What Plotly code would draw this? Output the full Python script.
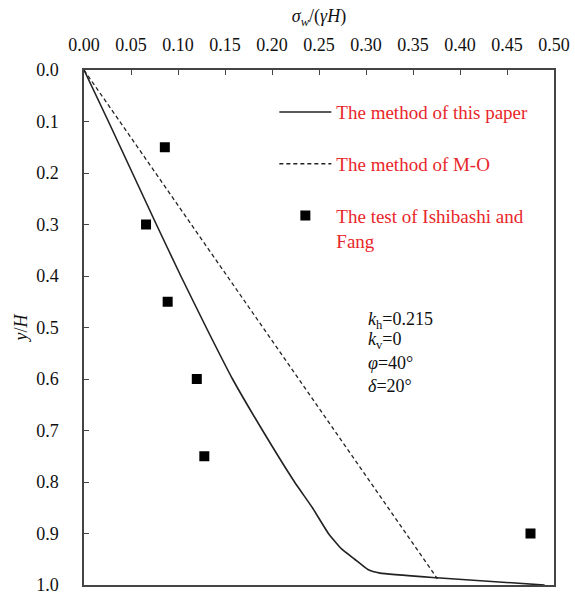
import plotly.graph_objects as go

# Data
paper_y = [0.0, 0.1, 0.2, 0.3, 0.4, 0.5, 0.6, 0.7, 0.8, 0.85, 0.9, 0.93, 0.95, 0.97, 0.977, 0.986, 1.0]
paper_x = [0.0, 0.026, 0.0515, 0.077, 0.103, 0.13, 0.158, 0.19, 0.224, 0.243, 0.26, 0.274, 0.288, 0.302, 0.315, 0.375, 0.49]

mo_y = [0.0, 0.988]
mo_x = [0.0, 0.376]

test_x = [0.086, 0.066, 0.089, 0.120, 0.128, 0.475]
test_y = [0.15, 0.30, 0.45, 0.60, 0.75, 0.90]

x_ticks = [0.00, 0.05, 0.10, 0.15, 0.20, 0.25, 0.30, 0.35, 0.40, 0.45, 0.50]
y_ticks = [0.0, 0.1, 0.2, 0.3, 0.4, 0.5, 0.6, 0.7, 0.8, 0.9, 1.0]

FONT = "Liberation Serif, Times New Roman, serif"
RED = "#e8262a"

fig = go.Figure()
fig.add_trace(go.Scatter(x=paper_x, y=paper_y, mode="lines",
                         line=dict(color="#222222", width=1.6, shape="spline", smoothing=0.4),
                         name="The method of this paper"))
fig.add_trace(go.Scatter(x=mo_x, y=mo_y, mode="lines",
                         line=dict(color="#222222", width=1.3, dash="4px,3px"),
                         name="The method of M-O"))
fig.add_trace(go.Scatter(x=test_x, y=test_y, mode="markers",
                         marker=dict(symbol="square", size=10, color="black"),
                         name="The test of Ishibashi and<br>Fang"))

ann = [
    ("<i>k</i><sub>h</sub>=0.215", 0.486),
    ("<i>k</i><sub>v</sub>=0", 0.525),
    ("<i>φ</i>=40°", 0.569),
    ("<i>δ</i>=20°", 0.613),
]
for txt, yy in ann:
    fig.add_annotation(x=0.300, y=yy, xref="x", yref="y", text=txt,
                       showarrow=False, xanchor="left", yanchor="middle",
                       font=dict(family=FONT, size=18, color="#111111"))

fig.update_layout(
    width=575, height=594,
    margin=dict(l=84, r=21, t=70, b=9),
    paper_bgcolor="white", plot_bgcolor="white",
    font=dict(family=FONT, size=18, color="#111111"),
    showlegend=True,
    legend=dict(x=0.405, y=0.955, xanchor="left", yanchor="top",
                bgcolor="rgba(0,0,0,0)", borderwidth=0,
                font=dict(family=FONT, size=19, color=RED),
                traceorder="grouped", tracegroupgap=24, valign="top",
                itemwidth=52),
    xaxis=dict(side="top", range=[0, 0.5], tickvals=x_ticks, tickformat=".2f",
               ticks="inside", ticklen=5, tickcolor="#444",
               showline=True, linecolor="#444", linewidth=1.5, mirror=True,
               showgrid=False, zeroline=False, automargin=False,
               ticklabelstandoff=10, ticklabeloverflow="allow",
               title=dict(text="<i>σ</i><sub><i>w</i></sub>/(<i>γH</i>)",
                          font=dict(family=FONT, size=18), standoff=8)),
    yaxis=dict(range=[1.0, 0.0], tickvals=y_ticks, tickformat=".1f",
               ticks="inside", ticklen=5, tickcolor="#444",
               showline=True, linecolor="#444", linewidth=1.5, mirror=True,
               showgrid=False, zeroline=False, automargin=False,
               ticklabelstandoff=20, ticklabeloverflow="allow",
               title=dict(text="<i>y</i>/<i>H</i>",
                          font=dict(family=FONT, size=18), standoff=4)),
)
for i, tr in enumerate(fig.data):
    tr.legendgroup = str(i)

fig.write_html("out.html")
